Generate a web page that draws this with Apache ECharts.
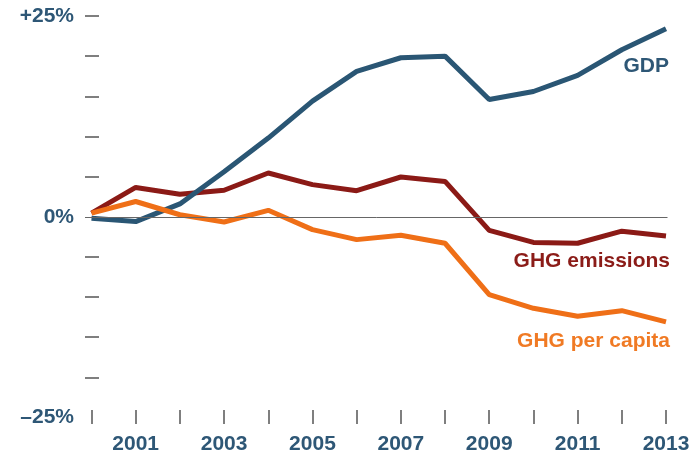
<!DOCTYPE html>
<html>
<head>
<meta charset="utf-8">
<script src="https://cdn.jsdelivr.net/npm/echarts@6/dist/echarts.min.js"></script>
<style>
html,body{margin:0;padding:0;background:#fff;}
#chart{width:690px;height:455px;}
</style>
</head>
<body>
<div id="chart"></div>
<script>
var years = [2000,2001,2002,2003,2004,2005,2006,2007,2008,2009,2010,2011,2012,2013];
var gdp = [-0.2,-0.6,1.6,5.6,9.8,14.4,18.1,19.8,20.0,14.6,15.6,17.6,20.8,23.4];
var ghgEmissions = [0.45,3.65,2.8,3.3,5.45,4.0,3.25,4.95,4.4,-1.7,-3.2,-3.3,-1.8,-2.4];
var ghgPerCapita = [0.45,1.9,0.25,-0.65,0.8,-1.6,-2.85,-2.3,-3.3,-9.7,-11.4,-12.4,-11.7,-13.1];
var xLabelYears = [2001,2003,2005,2007,2009,2011,2013];
var yTicks = [25,20,15,10,5,-5,-10,-15,-20];
var yLabels = {'25':'+25%','0':'0%','-25':'\u201325%'};
// extent of the 0% baseline, in years
var baselineFrom = 1999.853, baselineTo = 2013.034;

var FONT = '"Liberation Sans", Arial, Helvetica, sans-serif';
var BLUE = '#2a5674', RED = '#8b1a16', ORANGE = '#ef6f17';

function pairs(v){ return years.map(function(y,i){ return [y, v[i]]; }); }
var tickCats = [years[0]-1].concat(years, [years[years.length-1]+1]).map(String);

var chart = echarts.init(document.getElementById('chart'), null, {renderer:'canvas'});
chart.setOption({
  animation:false,
  grid:{left:47.31, right:-20.19, top:16, bottom:37.5, containLabel:false, outerBoundsMode:'none'},
  xAxis:[{
    type:'value', min:1999, max:2014, interval:1, offset:-7.5,
    axisLine:{show:false, onZero:false},
    splitLine:{show:false},
    axisTick:{show:false},
    axisLabel:{customValues:xLabelYears, margin:24, fontSize:21, fontWeight:'bold', color:'#2e5776', fontFamily:FONT,
      formatter:function(v){ return String(v); }}
  },{
    type:'category', data:tickCats, boundaryGap:false, offset:-7.5, position:'bottom',
    axisLine:{show:false, onZero:false},
    splitLine:{show:false},
    axisLabel:{show:false},
    axisTick:{show:true, length:14, lineStyle:{color:'#555', width:1.5},
      interval:function(i, v){ var y = Number(v); return y >= years[0] && y <= years[years.length-1]; }}
  }],
  yAxis:{
    type:'value', min:-25, max:25, interval:5, offset:-37.69,
    axisLine:{show:false, onZero:false},
    splitLine:{show:false},
    axisTick:{show:true, inside:true, length:14, customValues:yTicks, lineStyle:{color:'#555', width:1.5}},
    axisLabel:{margin:11, fontSize:21, fontWeight:'bold', color:'#2e5776', fontFamily:FONT,
      customValues:[25,0,-25],
      formatter:function(v){ var k=String(Math.round(v)); return yLabels[k]!==undefined?yLabels[k]:''; }}
  },
  series:[
    {name:'GHG emissions', type:'line', data:pairs(ghgEmissions), showSymbol:false, lineStyle:{color:RED, width:5}, itemStyle:{color:RED},
      markLine:{silent:true, symbol:['none','none'], label:{show:false}, lineStyle:{color:'#666', width:1, type:'solid'},
        data:[[{coord:[baselineFrom,0]},{coord:[baselineTo,0]}]]}, z:2},
    {name:'GDP', type:'line', data:pairs(gdp), showSymbol:false, lineStyle:{color:BLUE, width:5}, itemStyle:{color:BLUE}, z:3},
    {name:'GHG per capita', type:'line', data:pairs(ghgPerCapita), showSymbol:false, lineStyle:{color:ORANGE, width:5}, itemStyle:{color:ORANGE}, z:4}
  ],
  graphic:[
    {type:'text', right:21, top:56, style:{text:'GDP', fill:'#2e5776', font:'bold 21px '+FONT}},
    {type:'text', right:20, top:251, style:{text:'GHG emissions', fill:'#8b1c18', font:'bold 21px '+FONT}},
    {type:'text', right:20, top:331, style:{text:'GHG per capita', fill:'#f07a24', font:'bold 21px '+FONT}}
  ]
});
</script>
</body>
</html>
